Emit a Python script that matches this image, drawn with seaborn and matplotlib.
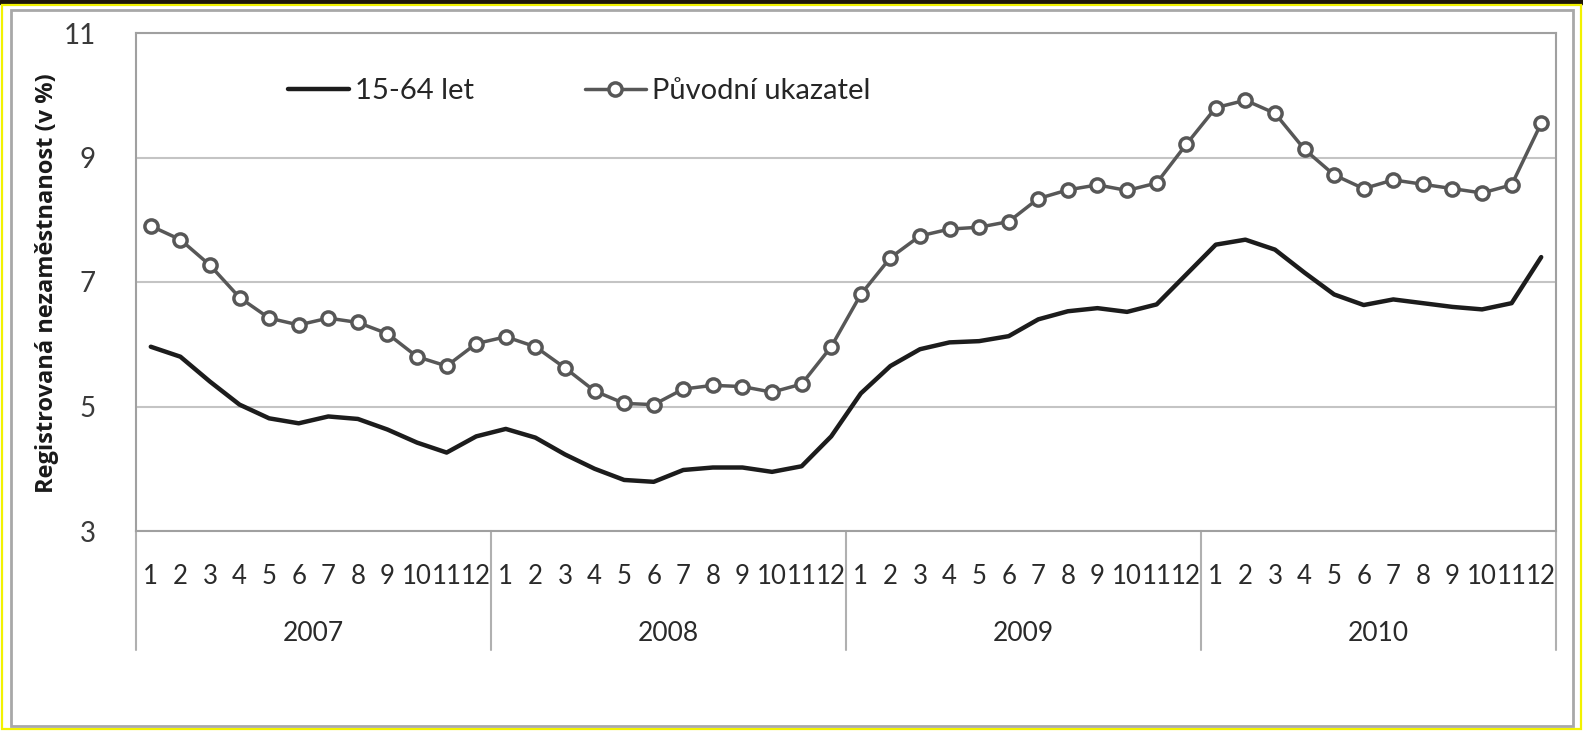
import matplotlib.pyplot as plt
import matplotlib.transforms as mtransforms
from matplotlib.patches import Rectangle
import seaborn as sns
import pandas as pd

roky = ['2007', '2008', '2009', '2010']
mesice = [str(m) for m in range(1, 13)]

# registrovana nezamestnanost v %, mesicne 2007-2010
vek_15_64 = [5.96, 5.80, 5.40, 5.03, 4.81, 4.73, 4.84, 4.80, 4.63, 4.42, 4.26, 4.52,
             4.64, 4.50, 4.23, 4.00, 3.82, 3.79, 3.98, 4.02, 4.02, 3.95, 4.04, 4.52,
             5.21, 5.65, 5.92, 6.03, 6.05, 6.13, 6.40, 6.53, 6.58, 6.52, 6.64, 7.12,
             7.60, 7.68, 7.52, 7.15, 6.80, 6.63, 6.72, 6.66, 6.60, 6.56, 6.66, 7.40]
puvodni = [7.90, 7.68, 7.27, 6.75, 6.42, 6.31, 6.42, 6.35, 6.17, 5.80, 5.65, 6.01,
           6.12, 5.96, 5.62, 5.25, 5.05, 5.03, 5.28, 5.34, 5.32, 5.23, 5.36, 5.96,
           6.80, 7.39, 7.74, 7.85, 7.88, 7.97, 8.34, 8.48, 8.56, 8.47, 8.59, 9.21,
           9.80, 9.92, 9.71, 9.13, 8.72, 8.50, 8.64, 8.57, 8.50, 8.43, 8.56, 9.55]

df = pd.DataFrame({
    'idx': range(len(puvodni)),
    'mesic': mesice * len(roky),
    'rok': [r for r in roky for _ in mesice],
    '15-64 let': vek_15_64,
    'Původní ukazatel': puvodni,
})

sns.set_style('white')
plt.rcParams['font.family'] = ['Lato', 'DejaVu Sans']

W, H = 1583, 731
fig = plt.figure(figsize=(W / 100, H / 100), dpi=100)
ax = fig.add_axes([136 / W, 1 - 531 / H, 1420 / W, 498 / H])

sns.lineplot(data=df, x='idx', y='15-64 let', ax=ax, color='#1c1c1c', lw=3.2,
             label='15-64 let')
sns.lineplot(data=df, x='idx', y='Původní ukazatel', ax=ax, color='#575757', lw=2.5,
             marker='o', markersize=9.5, markerfacecolor='white',
             markeredgecolor='#575757', markeredgewidth=2.5, label='Původní ukazatel')

ax.set_xlim(-0.5, len(puvodni) - 0.5)
ax.set_ylim(3, 11)
ax.set_yticks([3, 5, 7, 9, 11])
ax.yaxis.grid(True, color='#c4c4c4', lw=1.5)
ax.set_axisbelow(True)
ax.set_xticks(df['idx'])
ax.set_xticklabels(df['mesic'], fontsize=18.5, color='#2a2a2a')
ax.tick_params(axis='x', length=0, pad=24)
ax.tick_params(axis='y', length=0, pad=29, labelsize=20, labelcolor='#3a3a3a')
ax.set_xlabel('')
ax.set_ylabel('')
for s in ax.spines.values():
    s.set_color('#a0a0a0')
    s.set_linewidth(1.5)

# popisky roku a oddelovace
trans = mtransforms.blended_transform_factory(ax.transData, ax.transAxes)
for k, r in enumerate(roky):
    ax.text(k * 12 + 5.5, -0.205, r, transform=trans, ha='center', va='center',
            fontsize=19, color='#2a2a2a')
for k in range(len(roky) + 1):
    ax.plot([k * 12 - 0.5] * 2, [0, -0.239], transform=trans, color='#b0b0b0',
            lw=1.5, clip_on=False)

ax.legend(loc='center left', bbox_to_anchor=(0.107, 0.884), ncol=2, frameon=False,
          fontsize=21, handlelength=2.1, handletextpad=0.2, columnspacing=3.8,
          borderpad=0, borderaxespad=0)

fig.text(47 / W, 1 - 283 / H, 'Registrovaná nezaměstnanost (v %)', rotation=90,
         ha='center', va='center', fontsize=17, fontweight='bold',
         family=['Open Sans', 'DejaVu Sans'], color='#1a1a1a')

# ramecek kolem grafu
fig.patches.append(Rectangle((0, 1 - 4 / H), 1, 4 / H, transform=fig.transFigure,
                             color='#1e1608', zorder=0))
fig.patches.append(Rectangle((2 / W, 2 / H), (W - 4) / W, (H - 7) / H,
                             transform=fig.transFigure, fill=False,
                             edgecolor='#f2f200', lw=1.6))
fig.patches.append(Rectangle((11 / W, 5 / H), 1562 / W, 716 / H,
                             transform=fig.transFigure, fill=False,
                             edgecolor='#a8a8a8', lw=2))

fig.savefig('out.png', dpi=100)
plt.close(fig)
